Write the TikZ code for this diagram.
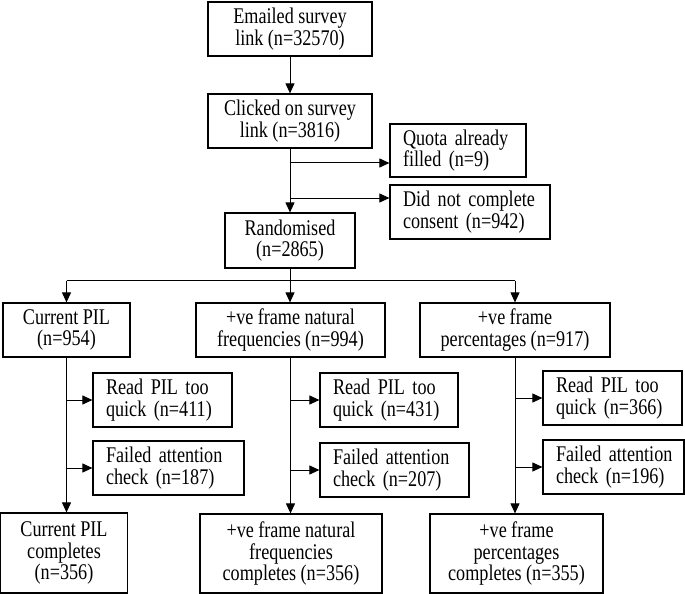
\documentclass[tikz,border=0pt]{standalone}
\usepackage{fontspec}
\setmainfont{Liberation Serif}[FakeStretch=0.81]
\usetikzlibrary{arrows.meta,calc}
\newcommand\boxfont{\fontsize{22.5}{21.7}\selectfont\spaceskip=4.4bp plus 1bp minus 1bp\xspaceskip=4.4bp}
\begin{document}
\begin{tikzpicture}[x=1bp,y=-1bp,
  box/.style={draw, line width=1.2bp, inner ysep=0pt, font=\boxfont},
  cbox/.style={box, align=center, inner xsep=0pt},
  lbox/.style={box, align=left, inner xsep=13bp},
  arr/.style={line width=1bp, -{Triangle[length=10bp,width=9bp]}},
  ln/.style={line width=1bp}]
\useasboundingbox (0,0) rectangle (685,594);
% top chain
\node[cbox, minimum width=164bp, minimum height=54bp] (email) at (290,29) {Emailed survey\\link (n=32570)};
\node[cbox, minimum width=164bp, minimum height=54bp] (click) at (290,121) {Clicked on survey\\link (n=3816)};
\node[lbox, text width=110bp, minimum height=53bp] (quota) at (458,150.5) {\mbox{Quota already}\\\mbox{filled (n=9)}};
\node[lbox, text width=134bp, minimum height=54bp] (consent) at (470,212) {\mbox{Did not complete}\\\mbox{consent (n=942)}};
\node[cbox, minimum width=130bp, minimum height=55bp] (rand) at (290,240.5) {Randomised\\(n=2865)};
% arms
\node[cbox, minimum width=127bp, minimum height=54bp] (cur) at (66.5,330) {Current PIL\\(n=954)};
\node[cbox, minimum width=189bp, minimum height=54bp] (nat) at (290.5,330) {+ve frame natural\\frequencies (n=994)};
\node[cbox, minimum width=190bp, minimum height=54bp] (pct) at (515,330) {+ve frame\\percentages (n=917)};
% exclusions
\node[lbox, text width=113bp, minimum height=54bp] (read1) at (162.5,400) {\mbox{Read PIL too}\\\mbox{quick (n=411)}};
\node[lbox, text width=125bp, minimum height=54bp] (fail1) at (168.5,468) {\mbox{Failed attention}\\\mbox{check (n=187)}};
\node[lbox, text width=112bp, minimum height=54bp] (read2) at (389,400) {\mbox{Read PIL too}\\\mbox{quick (n=431)}};
\node[lbox, text width=123bp, minimum height=54bp] (fail2) at (394.5,470) {\mbox{Failed attention}\\\mbox{check (n=207)}};
\node[lbox, text width=113bp, minimum height=54bp] (read3) at (612.5,398) {\mbox{Read PIL too}\\\mbox{quick (n=366)}};
\node[lbox, text width=115bp, minimum height=54bp] (fail3) at (613.5,467) {\mbox{Failed attention}\\\mbox{check (n=196)}};
% completes
\node[cbox, minimum width=127bp, minimum height=80bp] (comp1) at (64,553) {Current PIL\\completes\\(n=356)};
\node[cbox, minimum width=182bp, minimum height=79bp] (comp2) at (291,553.5) {+ve frame natural\\frequencies\\completes (n=356)};
\node[cbox, minimum width=173bp, minimum height=79bp] (comp3) at (516.5,553.5) {+ve frame\\percentages\\completes (n=355)};
% connectors top
\draw[arr] (email) -- (click);
\draw[arr] (click) -- (rand);
\coordinate (qa) at ($(quota.west)+(0,12.5)$);
\coordinate (ca) at ($(consent.west)+(0,-14)$);
\draw[arr] (click.south |- qa) -- (qa);
\draw[arr] (click.south |- ca) -- (ca);
% split
\coordinate (split) at ($(rand.south)+(0,12)$);
\draw[ln] (rand) -- (split);
\draw[ln] (cur.north |- split) -- (pct.north |- split);
\draw[arr] (split -| cur.north) -- (cur.north);
\draw[arr] (split) -- (split |- nat.north);
\draw[arr] (split -| pct.north) -- (pct.north);
% columns
\draw[arr] (cur) -- (cur.south |- comp1.north);
\draw[arr] (cur.south |- read1.west) -- (read1.west);
\draw[arr] (cur.south |- fail1.west) -- (fail1.west);
\draw[arr] (nat) -- (nat.south |- comp2.north);
\draw[arr] (nat.south |- read2.west) -- (read2.west);
\draw[arr] (nat.south |- fail2.west) -- (fail2.west);
\draw[arr] (pct) -- (pct.south |- comp3.north);
\draw[arr] (pct.south |- read3.west) -- (read3.west);
\draw[arr] (pct.south |- fail3.west) -- (fail3.west);
\end{tikzpicture}
\end{document}
